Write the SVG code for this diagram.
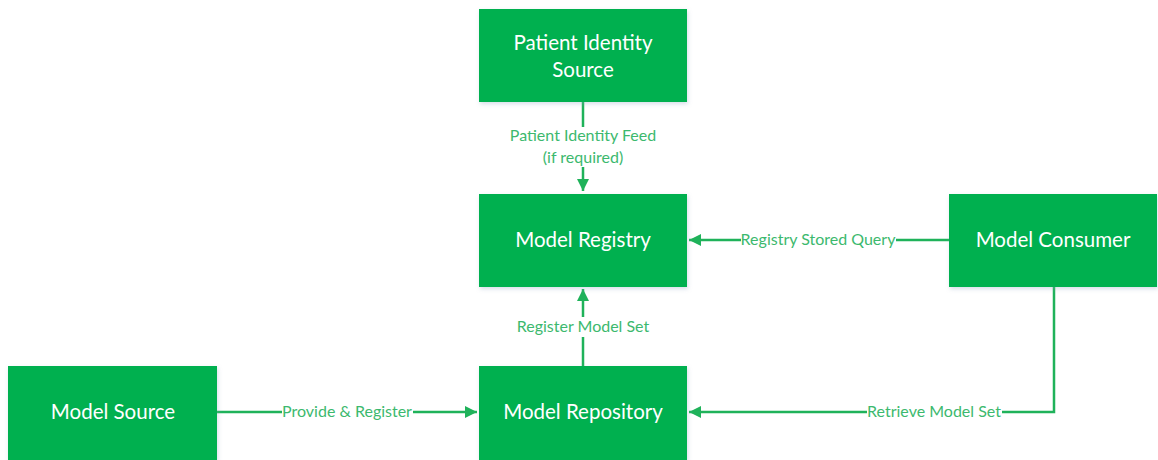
<svg xmlns="http://www.w3.org/2000/svg" width="1158" height="460" viewBox="0 0 1158 460">
<defs>
<marker id="ah" viewBox="0 0 12 12" refX="12" refY="6" markerWidth="12" markerHeight="12" markerUnits="userSpaceOnUse" orient="auto">
<path d="M0,0 L12,6 L0,12 Z" fill="#1fb25a"/>
</marker>
<filter id="sh" x="-5%" y="-5%" width="112%" height="115%">
<feDropShadow dx="1" dy="2" stdDeviation="2" flood-color="#8aa0c0" flood-opacity="0.35"/>
</filter>
<style>
.box{fill:#00b050;filter:url(#sh)}
.bt{font-family:Lato,"Liberation Sans",sans-serif;font-size:20.5px;fill:#ffffff;text-anchor:middle}
.ln{fill:none;stroke:#1fb25a;stroke-width:2.5}
.bg{fill:#ffffff}
.lb{font-family:Lato,"Liberation Sans",sans-serif;font-size:16px;fill:#3cb96e;text-anchor:middle}
</style>
</defs>
<rect width="1158" height="460" fill="#ffffff"/>
<g id="connectors">
<path class="ln" d="M583,102 V191" marker-end="url(#ah)"/>
<path class="ln" d="M949,240 H689" marker-end="url(#ah)"/>
<path class="ln" d="M583,366 V289" marker-end="url(#ah)"/>
<path class="ln" d="M217,412 H477" marker-end="url(#ah)"/>
<path class="ln" d="M1054,287 V412 H689" marker-end="url(#ah)"/>
<rect class="bg" x="508" y="127" width="150" height="40"/>
<rect class="bg" x="741" y="231" width="155" height="18"/>
<rect class="bg" x="515" y="317" width="136" height="20"/>
<rect class="bg" x="282" y="403" width="131" height="18"/>
<rect class="bg" x="867" y="403" width="135" height="18"/>
<text class="lb" x="583" y="141">Patient Identity Feed</text>
<text class="lb" x="583" y="163">(if required)</text>
<text class="lb" x="818" y="245">Registry Stored Query</text>
<text class="lb" x="583" y="332">Register Model Set</text>
<text class="lb" x="347" y="417">Provide &amp; Register</text>
<text class="lb" x="934" y="417">Retrieve Model Set</text>
</g>
<g id="patient-identity-source">
<rect class="box" x="479" y="9" width="208" height="93"/>
<text class="bt" x="583" y="50">Patient Identity</text>
<text class="bt" x="583" y="77">Source</text>
</g>
<g id="model-registry">
<rect class="box" x="479" y="194" width="208" height="93"/>
<text class="bt" x="583" y="247">Model Registry</text>
</g>
<g id="model-consumer">
<rect class="box" x="949" y="194" width="208" height="93"/>
<text class="bt" x="1053" y="247">Model Consumer</text>
</g>
<g id="model-source">
<rect class="box" x="8" y="366" width="209" height="94"/>
<text class="bt" x="113" y="419">Model Source</text>
</g>
<g id="model-repository">
<rect class="box" x="479" y="366" width="208" height="94"/>
<text class="bt" x="583" y="419">Model Repository</text>
</g>
</svg>
